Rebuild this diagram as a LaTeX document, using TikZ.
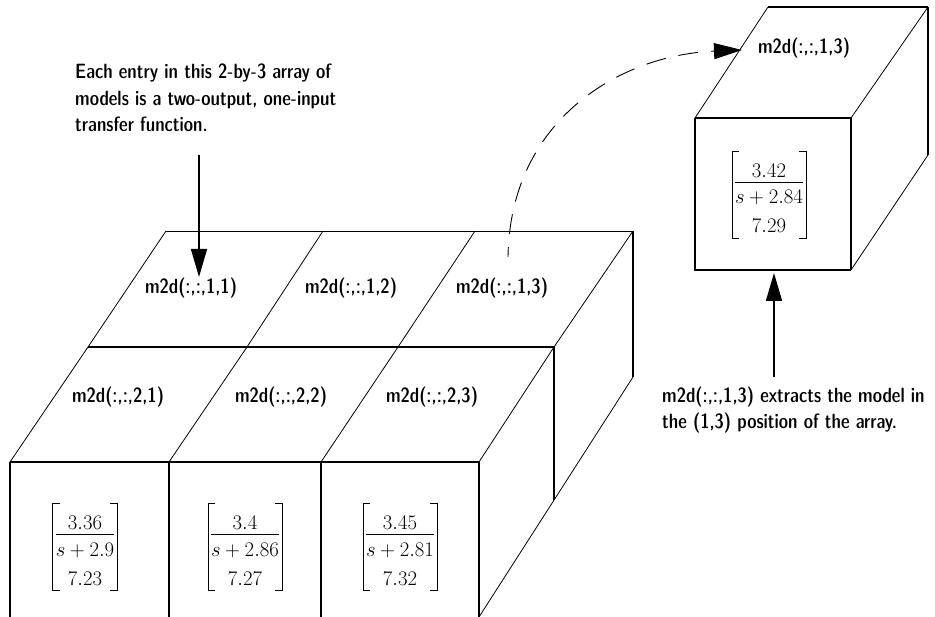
\documentclass[tikz,border=0pt]{standalone}
\usepackage{amsmath}
\usepackage{graphicx}
\usetikzlibrary{arrows.meta}
\newcommand\tx[1]{\scalebox{1}[1.06]{#1}}
% transfer-function column vector: name, centre, numerator, denominator, value
\newcommand\tfmat[5]{%
  \begin{scope}[shift={#2}]
    \node[mtxt, anchor=base] (#1n) at (0,-17.5) {$#3$};
    \node[mtxt, anchor=base] (#1d) at (0,9) {$#4$};
    \node[mtxt, anchor=base] (#1v) at (0,38) {$#5$};
    \draw[fracrule] (#1d.west |- 0,-13) -- (#1d.east |- 0,-13);
    \coordinate (#1L) at ([xshift=-3pt]#1d.west);
    \coordinate (#1R) at ([xshift=3pt]#1d.east);
    \draw[brk] (#1L |- 0,-44) ++(7,0) -- ++(-7,0) -- (#1L |- 0,43) -- ++(7,0);
    \draw[brk] (#1R |- 0,-44) ++(-7,0) -- ++(7,0) -- (#1R |- 0,43) -- ++(-7,0);
  \end{scope}}
\begin{document}
\begin{tikzpicture}[x=1pt,y=-1pt,
  lbl/.style={font=\fontsize{19.5}{23}\sffamily\fontseries{sbc}\selectfont, inner sep=0pt},
  mtxt/.style={font=\fontsize{22.5}{27}\selectfont, inner sep=0pt},
  fracrule/.style={line width=0.7pt},
  brk/.style={line width=0.7pt},
  thinl/.style={line width=0.8pt},
  midl/.style={line width=1.1pt},
  thickl/.style={line width=1.6pt},
  arr/.style={line width=1.6pt, -{Triangle[length=28pt,width=16pt]}},
  dasharr/.style={line width=0.9pt, dash pattern=on 20pt off 13pt, dash phase=10pt, -{Triangle[length=28pt,width=16pt]}}
]
\useasboundingbox (0,0) rectangle (935,617);

% ---- big 2-by-3 array ----
\coordinate (B0) at (166,231); \coordinate (B1) at (323,231);
\coordinate (B2) at (475,231); \coordinate (B3) at (633,231);
\coordinate (M0) at (88,347);  \coordinate (M1) at (247,347);
\coordinate (M2) at (398,347); \coordinate (M3) at (554,347);
\coordinate (F0) at (10,462);  \coordinate (F1) at (169,462);
\coordinate (F2) at (321,462); \coordinate (F3) at (479,462);
\coordinate (R3) at (633,377); \coordinate (R2) at (554,500);
\coordinate (G0) at (10,617);  \coordinate (G1) at (169,617);
\coordinate (G2) at (321,617); \coordinate (G3) at (479,617);

\draw[thinl] (B0) -- (B3);
\draw[thickl] (M0) -- (M3);
\draw[midl] (F0) -- (F3);
\draw[thinl] (B0) -- (M0) -- (F0);
\draw[thinl] (B1) -- (M1) -- (F1);
\draw[thinl] (B2) -- (M2) -- (F2);
\draw[thinl] (B3) -- (M3) -- (F3);
\draw[thickl] (F0) -- (G0);
\draw[thickl] (F1) -- (G1);
\draw[thickl] (F2) -- (G2);
\draw[thickl] (F3) -- (G3);
\draw[thickl] (B3) -- (R3);
\draw[thickl] (M3) -- (R2);
\draw[thinl] (R3) -- (G3);

\node[lbl] (l11) at (191,288) {\tx{m2d(:,:,1,1)}};
\node[lbl] (l12) at (351,288) {\tx{m2d(:,:,1,2)}};
\node[lbl] (l13) at (502,288) {\tx{m2d(:,:,1,3)}};
\node[lbl] (l21) at (118,397) {\tx{m2d(:,:,2,1)}};
\node[lbl] (l22) at (281,397) {\tx{m2d(:,:,2,2)}};
\node[lbl] (l23) at (432,397) {\tx{m2d(:,:,2,3)}};

\tfmat{ma}{(85,547)}{3.36}{s+2.9}{7.23}
\tfmat{mb}{(245,547)}{3.4}{s+2.86}{7.27}
\tfmat{mc}{(400,547)}{3.45}{s+2.81}{7.32}

% ---- single extracted cube ----
\coordinate (C0) at (768,7);   \coordinate (C1) at (928,7);
\coordinate (C2) at (695,118); \coordinate (C3) at (851,118);
\coordinate (C4) at (695,270); \coordinate (C5) at (851,270);
\coordinate (C6) at (928,155);
\draw[thickl] (C0) -- (C1);
\draw[thinl] (C0) -- (C2);
\draw[thinl] (C1) -- (C3);
\draw[midl] (C2) -- (C3);
\draw[midl] (C2) -- (C4) -- (C5);
\draw[thickl] (C3) -- (C5);
\draw[midl] (C1) -- (C6);
\draw[thinl] (C6) -- (C5);

\node[lbl] (c13) at (804,48) {\tx{m2d(:,:,1,3)}};
\tfmat{md}{(769,195)}{3.42}{s+2.84}{7.29}

% ---- annotations ----
\node[lbl, anchor=base west] (t1) at (75,79) {\tx{Each entry in this 2-by-3 array of}};
\node[lbl, anchor=base west] (t2) at (75,105.5) {\tx{models is a two-output, one-input}};
\node[lbl, anchor=base west] (t3) at (75,132) {\tx{transfer function.}};

\node[lbl, anchor=base west] (u1) at (662,403) {\tx{m2d(:,:,1,3) extracts the model in}};
\node[lbl, anchor=base west] (u2) at (662,429) {\tx{the (1,3) position of the array.}};

\coordinate (a1s) at (199,155); \coordinate (a1e) at (199,277);
\draw[arr] (a1s) -- (a1e);
\coordinate (a2s) at (774,377); \coordinate (a2e) at (774,273);
\draw[arr] (a2s) -- (a2e);

\coordinate (d0) at (508,257); \coordinate (d1) at (742,50);
\draw[dasharr] (d0) .. controls (510,120) and (620,55) .. (d1);
\end{tikzpicture}
\end{document}
